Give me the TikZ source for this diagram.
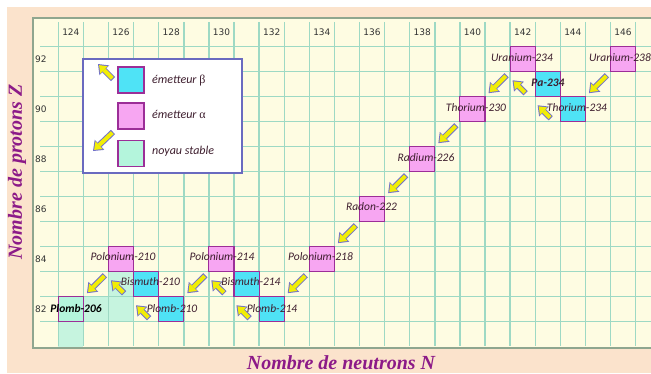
\documentclass[tikz,border=0pt]{standalone}
\usepackage{fontspec}
\usetikzlibrary{arrows.meta}
\newfontfamily\labfont{Carlito}
\newfontfamily\numfont{DejaVu Sans}
\newfontfamily\axfont{Liberation Serif}
\definecolor{peach}{HTML}{FBE3CC}
\definecolor{cream}{HTML}{FEFCE2}
\definecolor{gridc}{HTML}{9ED9C4}
\definecolor{framec}{HTML}{8FA68F}
\definecolor{pinkf}{HTML}{F7A6F2}
\definecolor{cyanf}{HTML}{4FE3F6}
\definecolor{mintf}{HTML}{B4F5DC}
\definecolor{mintbg}{HTML}{C6F4DF}
\definecolor{boxb}{HTML}{9C2E98}
\definecolor{axisc}{HTML}{8C1A88}
\definecolor{labc}{HTML}{3E1E2E}
\definecolor{arry}{HTML}{F2EE05}
\definecolor{arrb}{HTML}{7272C8}
\definecolor{legb}{HTML}{6A6AC0}
\definecolor{numc}{HTML}{333333}
\tikzset{
  gridline/.style={draw=gridc, line width=1.4pt},
  nucbox/.style={draw=boxb, line width=1.1pt, minimum width=25.1pt, minimum height=25pt, inner sep=0pt},
  abox/.style={nucbox, fill=pinkf},
  bbox/.style={nucbox, fill=cyanf},
  sbox/.style={nucbox, fill=mintf},
  legsq/.style={draw=boxb, line width=1.1pt, minimum width=26pt, minimum height=26pt, inner sep=0pt},
  nuclab/.style={font=\labfont\itshape\fontsize{11.5}{12}\selectfont, text=labc, inner sep=0pt},
  leglab/.style={font=\labfont\itshape\fontsize{12}{13}\selectfont, text=labc, inner sep=0pt, anchor=west},
  numlab/.style={font=\numfont\fontsize{9}{10}\selectfont, text=numc, inner sep=0pt},
  axlab/.style={font=\axfont\bfseries\itshape\fontsize{20}{22}\selectfont, text=axisc, inner sep=0pt},
  arrowout/.style={draw=arrb, line width=6pt, -{Triangle[width=14pt,length=9pt,line width=0pt]}},
  arrowin/.style={draw=arry, line width=4pt, shorten >=1.6pt, shorten <=1pt, -{Triangle[width=10.5pt,length=6.8pt,line width=0pt]}},
}
\begin{document}
\begin{tikzpicture}[x=1pt,y=-1pt]
\useasboundingbox (0,0) rectangle (651,373);
\fill[white] (0,0) rectangle (651,373);
\fill[peach] (7,7) rectangle (651,373);
\fill[cream] (33,18) rectangle (660,348);
% stable background cells
\begin{scope}[shift={(58.3pt,-46.7pt)},x=25.1pt,y=-25pt]
  \fill[mintbg] (1,10) rectangle (3,11);
  \fill[mintbg] (2,9) rectangle (3,10);
  \fill[mintbg] (0,11) rectangle (1,12);
\end{scope}
% grid
\foreach \k in {0,...,23} \draw[gridline] ({58.3+25.1*\k},22) -- ({58.3+25.1*\k},346);
\foreach \j in {0,...,11} \draw[gridline] (40,{46.7+25*\j}) -- (660,{46.7+25*\j});
\draw[framec, line width=1.5pt] (660,18) -- (33,18) -- (33,348) -- (660,348);
% axis numbers
\foreach \n [count=\i from 0] in {124,126,...,146}
  \node[numlab] (n\n) at ({70.85+50.2*\i},32) {\n};
\foreach \z [count=\i from 0] in {92,90,...,82}
  \node[numlab, anchor=west] (z\z) at (35,{59.2+50*\i}) {\z};
% nuclides
\begin{scope}[shift={(58.3pt,-46.7pt)},x=25.1pt,y=-25pt]
  \node[abox] (U238) at (22.5,0.5) {};
  \node[abox] (U234) at (18.5,0.5) {};
  \node[bbox] (Pa234) at (19.5,1.5) {};
  \node[bbox] (Th234) at (20.5,2.5) {};
  \node[abox] (Th230) at (16.5,2.5) {};
  \node[abox] (Ra226) at (14.5,4.5) {};
  \node[abox] (Rn222) at (12.5,6.5) {};
  \node[abox] (Po218) at (10.5,8.5) {};
  \node[bbox] (Pb214) at (8.5,10.5) {};
  \node[bbox] (Bi214) at (7.5,9.5) {};
  \node[abox] (Po214) at (6.5,8.5) {};
  \node[bbox] (Pb210) at (4.5,10.5) {};
  \node[bbox] (Bi210) at (3.5,9.5) {};
  \node[abox] (Po210) at (2.5,8.5) {};
  \node[sbox] (Pb206) at (0.5,10.5) {};
\end{scope}
% alpha decays
\foreach \a/\b in {U238/Th234,U234/Th230,Th230/Ra226,Ra226/Rn222,Rn222/Po218,Po218/Pb214,Po214/Pb210,Po210/Pb206}{
  \draw[arrowout] ([shift={(-3,3)}]\a.south west) -- ([shift={(3,-3)}]\b.north east);
  \draw[arrowin] ([shift={(-3,3)}]\a.south west) -- ([shift={(3,-3)}]\b.north east);
}
% beta decays
\foreach \a/\b in {Th234/Pa234,Pa234/U234,Pb214/Bi214,Bi214/Po214,Pb210/Bi210,Bi210/Po210}{
  \draw[arrowout] ([shift={(-9,-4)}]\a.south west) -- ([shift={(3,8)}]\b.south west);
  \draw[arrowin] ([shift={(-9,-4)}]\a.south west) -- ([shift={(3,8)}]\b.south west);
}
% labels
\node[nuclab] (lU238) at (620,58) {Uranium-238};
\node[nuclab] (lU234) at (522,58) {Uranium-234};
\node[nuclab, font=\labfont\bfseries\itshape\fontsize{11.5}{12}\selectfont] (lPa234) at (548,82.5) {Pa-234};
\node[nuclab] (lTh234) at (577,108) {Thorium-234};
\node[nuclab] (lTh230) at (476,108) {Thorium-230};
\node[nuclab] (lRa226) at (426,157.5) {Radium-226};
\node[nuclab] (lRn222) at (371.5,207) {Radon-222};
\node[nuclab] (lPo218) at (320.5,257) {Polonium-218};
\node[nuclab] (lPo214) at (222,256.5) {Polonium-214};
\node[nuclab] (lBi214) at (251,282) {Bismuth-214};
\node[nuclab] (lPb214) at (272,309) {Plomb-214};
\node[nuclab] (lPo210) at (123,256.5) {Polonium-210};
\node[nuclab] (lBi210) at (150.5,282) {Bismuth-210};
\node[nuclab] (lPb210) at (172,309) {Plomb-210};
\node[nuclab, text=black, font=\labfont\bfseries\itshape\fontsize{11.5}{12}\selectfont] (lPb206) at (76,309) {Plomb-206};
% legend
\node[draw=legb, fill=white, line width=1.2pt, minimum width=159pt, minimum height=114pt, inner sep=0pt] (legend) at (162.5,116) {};
\node[legsq, fill=cyanf] (lgb) at (131,80) {};
\node[legsq, fill=pinkf] (lga) at (131,116) {};
\node[legsq, fill=mintf] (lgs) at (131,153.5) {};
\node[leglab] (tb) at (152,80.5) {émetteur {\axfont\upshape β}};
\node[leglab] (ta) at (152,114) {émetteur {\axfont\upshape α}};
\node[leglab] (ts) at (152,151) {noyau stable};
\coordinate (lbt) at (113,79);
\coordinate (lbh) at (98,64);
\coordinate (lat) at (113,132);
\coordinate (lah) at (93,151);
\draw[arrowout] (lbt) -- (lbh);
\draw[arrowin] (lbt) -- (lbh);
\draw[arrowout] (lat) -- (lah);
\draw[arrowin] (lat) -- (lah);
% axis titles
\node[axlab, rotate=90] (ytitle) at (17,172) {Nombre de protons Z};
\node[axlab] (xtitle) at (341,363) {Nombre de neutrons N};
\end{tikzpicture}
\end{document}
